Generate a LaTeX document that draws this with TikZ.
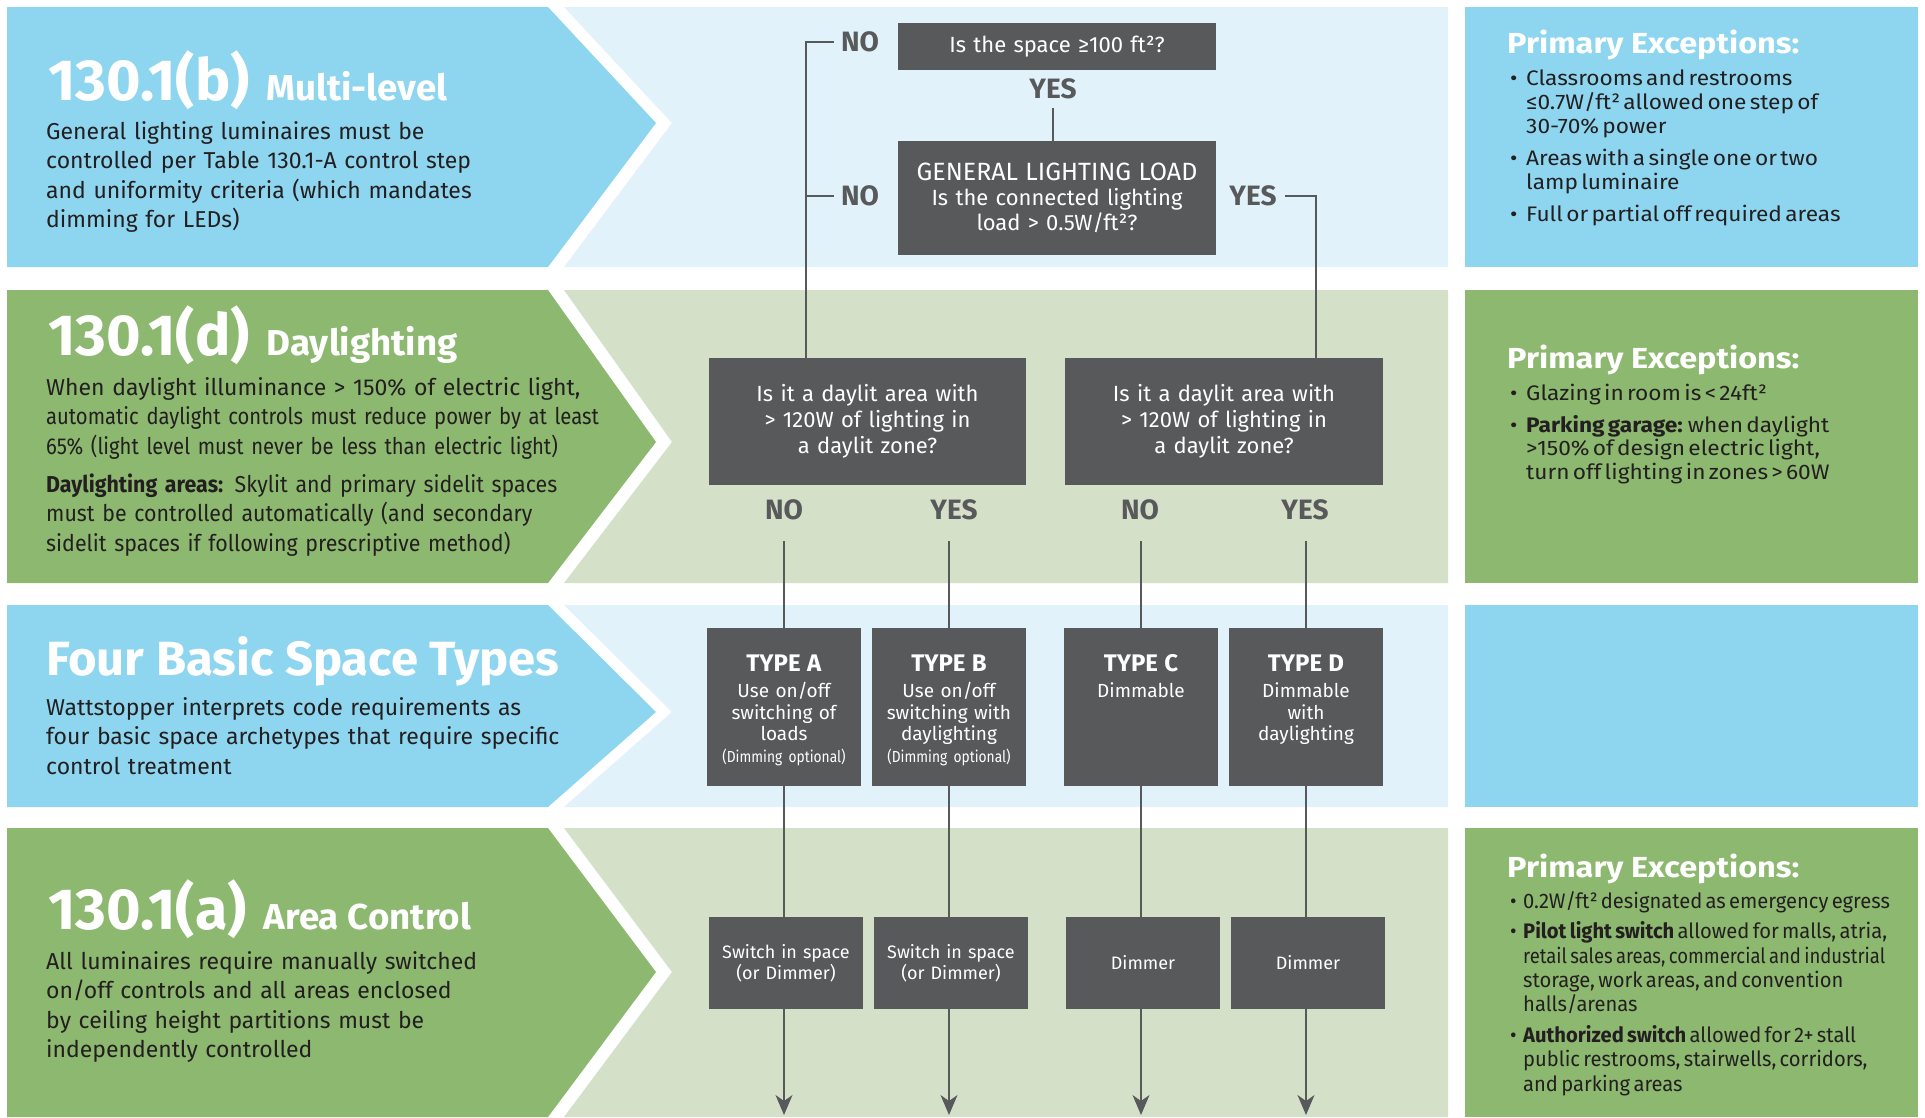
\documentclass[tikz,border=0pt]{standalone}
\usepackage{fontspec}
\setmainfont{Fira Sans}
\newfontfamily\titlefont[FakeStretch=1.02]{Fira Sans}
\newfontfamily\narrowfont[FakeStretch=0.86]{Fira Sans}
\newfontfamily\tightfont[FakeStretch=0.88]{Fira Sans}
\newfontfamily\snugfont[FakeStretch=0.93]{Fira Sans}
\newfontfamily\listfont[FakeStretch=0.96]{Fira Sans}
\newfontfamily\widefont[FakeStretch=1.08]{Fira Sans}
\newfontfamily\headfont[FakeStretch=1.12]{Fira Sans}
\usetikzlibrary{arrows.meta}

\definecolor{skyband}{HTML}{8ED6EF}
\definecolor{skypale}{HTML}{E1F2FA}
\definecolor{leafband}{HTML}{8DB870}
\definecolor{leafpale}{HTML}{D5E0C9}
\definecolor{boxgrey}{HTML}{58595B}
\definecolor{inkdark}{HTML}{231F20}

\newcommand\sz[2]{\fontsize{#1}{#2}\selectfont}
\newcommand\bul[2][16pt]{\hangindent=#1\hangafter=1\makebox[#1][l]{\textbullet}#2\par}

\begin{document}
\begin{tikzpicture}[x=1pt,y=-1pt,
    question/.style={fill=boxgrey,text=white,inner sep=0pt,align=center,font=\sz{22}{25}},
    answer/.style={text=boxgrey,inner sep=0pt,font=\bfseries\sz{28}{28}},
    typebox/.style={fill=boxgrey,minimum width=154pt,minimum height=158pt,inner sep=0pt},
    typetext/.style={text=white,text width=150pt,align=center,inner sep=0pt,anchor=base,font=\sz{19}{21.5}},
    ctrlbox/.style={fill=boxgrey,text=white,minimum width=154pt,minimum height=92pt,inner sep=0pt,
      text width=150pt,align=center,font=\sz{18}{21}},
    wire/.style={draw=boxgrey,line width=1.3pt},
    headline/.style={text=white,anchor=base west,inner sep=0pt},
    blurb/.style={text=inkdark,anchor=base west,inner sep=0pt,text width=640pt,align=left,font=\sz{23}{29.5}},
    exhead/.style={text=white,anchor=base west,inner sep=0pt,font=\headfont\bfseries\sz{29}{29}},
    exlist/.style={text=inkdark,anchor=base west,inner sep=0pt,text width=460pt,align=left},
  ]
  \fill[white] (0,0) rectangle (1925,1117);
  \useasboundingbox (0,0) rectangle (1925,1117);

  % bands: chevron, pale field, side panel
  \foreach \top/\tip/\bot/\deep/\pale in {7/123/267/skyband/skypale, 290/442/583/leafband/leafpale,
      605/712/807/skyband/skypale, 828/972/1117/leafband/leafpale}{
    \fill[\pale] (564,\top) -- (672,\tip) -- (564,\bot) -- (1448,\bot) -- (1448,\top) -- cycle;
    \fill[\deep] (7,\top) -- (548,\top) -- (656,\tip) -- (548,\bot) -- (7,\bot) -- cycle;
    \fill[\deep] (1465,\top) rectangle (1918,\bot);
  }

  % left headings
  \node[headline] (headb) at (48,100) {\titlefont\bfseries\sz{58}{58}130.1(b)\hspace{17pt}\sz{36}{36}Multi-level};
  \node[blurb] (textb) at (46,139) {General lighting luminaires must be\\controlled per Table 130.1-A control step\\
    and uniformity criteria (which mandates\\dimming for LEDs)};
  \node[headline] (headd) at (48,355) {\titlefont\bfseries\sz{58}{58}130.1(d)\hspace{17pt}\sz{36}{36}Daylighting};
  \node[blurb] (textd) at (46,395) {When daylight illuminance > 150\% of electric light,\\
    {\tightfont automatic daylight controls must reduce power by at least}\\
    {\tightfont 65\% (light level must never be less than electric light)}\\[8.5pt]
    {\snugfont\textbf{Daylighting areas:} Skylit and primary sidelit spaces}\\
    {\snugfont must be controlled automatically (and secondary}\\
    {\snugfont sidelit spaces if following prescriptive method)}};
  \node[headline] (headtypes) at (46,675) {\titlefont\bfseries\sz{48}{48}Four Basic Space Types};
  \node[blurb] (texttypes) at (46,715) {Wattstopper interprets code requirements as\\
    four basic space archetypes that require specific\\control treatment};
  \node[headline] (heada) at (48,929) {\titlefont\bfseries\sz{58}{58}130.1(a)\hspace{17pt}\sz{36}{36}Area Control};
  \node[blurb] (texta) at (46,969) {All luminaires require manually switched\\on/off controls and all areas enclosed\\
    by ceiling height partitions must be\\independently controlled};

  % exceptions
  \node[exhead] (exb) at (1507,53) {Primary Exceptions:};
  \node[exlist] (exblist) at (1510,85) {\widefont\sz{21}{24}\parskip=8pt
    \bul{Classrooms and restrooms\newline ≤0.7W/ft² allowed one step of\newline 30-70\% power}
    \bul{Areas with a single one or two\newline lamp luminaire}
    \bul{Full or partial off required areas}};
  \node[exhead] (exd) at (1507,368) {Primary Exceptions:};
  \node[exlist] (exdlist) at (1510,400) {\widefont\sz{21}{23.5}\parskip=8.5pt
    \bul{Glazing in room is < 24ft²}
    \bul{\textbf{Parking garage:} when daylight\newline >150\% of design electric light,\newline
      turn off lighting in zones > 60W}};
  \node[exhead] (exa) at (1507,877) {Primary Exceptions:};
  \node[exlist] (exalist) at (1510,908) {\listfont\sz{21}{24.3}\parskip=6.5pt
    \bul[13pt]{0.2W/ft² designated as emergency egress}
    \bul[13pt]{\textbf{Pilot light switch} allowed for malls, atria,\newline
      {\tightfont retail sales areas, commercial and industrial}\newline
      storage, work areas, and convention\newline halls/arenas}
    \bul[13pt]{\textbf{Authorized switch} allowed for 2+ stall\newline public restrooms, stairwells, corridors,\newline
      and parking areas}};

  % decision boxes
  \node[question,minimum width=318pt,minimum height=47pt,text width=300pt] (space) at (1057,46.5)
    {Is the space ≥100 ft²?};
  \node[question,minimum width=318pt,minimum height=114pt,text width=300pt] (load) at (1057,198)
    {{\sz{25}{25}GENERAL LIGHTING LOAD}\\Is the connected lighting\\load > 0.5W/ft²?};
  \node[question,font=\sz{22}{26},minimum width=317pt,minimum height=127pt,text width=300pt] (daylitL) at (867.5,421.5)
    {Is it a daylit area with\\> 120W of lighting in\\a daylit zone?};
  \node[question,font=\sz{22}{26},minimum width=318pt,minimum height=127pt,text width=300pt] (daylitR) at (1224,421.5)
    {Is it a daylit area with\\> 120W of lighting in\\a daylit zone?};

  \node[answer] (no1) at (860,42) {NO};
  \node[answer] (yes1) at (1053,89) {YES};
  \node[answer] (no2) at (860,196) {NO};
  \node[answer] (yes2) at (1253,196) {YES};
  \node[answer] (no3) at (784,510) {NO};
  \node[answer] (yes3) at (954,510) {YES};
  \node[answer] (no4) at (1140,510) {NO};
  \node[answer] (yes4) at (1305,510) {YES};

  % space types
  \node[typebox] (ta) at (784,707) {};
  \node[typebox] (tb) at (949,707) {};
  \node[typebox] (tc) at (1141,707) {};
  \node[typebox] (td) at (1306,707) {};
  \node[typetext] (ta-txt) at ([yshift=-44pt]ta.north) {\textbf{\sz{24}{26}TYPE A}\\[4.5pt]Use on/off\\switching of\\loads\\
    {\narrowfont\sz{16}{21.5}(Dimming optional)}};
  \node[typetext] (tb-txt) at ([yshift=-44pt]tb.north) {\textbf{\sz{24}{26}TYPE B}\\[4.5pt]Use on/off\\switching with\\daylighting\\
    {\narrowfont\sz{16}{21.5}(Dimming optional)}};
  \node[typetext] (tc-txt) at ([yshift=-44pt]tc.north) {\textbf{\sz{24}{26}TYPE C}\\[4.5pt]Dimmable};
  \node[typetext] (td-txt) at ([yshift=-44pt]td.north) {\textbf{\sz{24}{26}TYPE D}\\[4.5pt]Dimmable\\with\\daylighting};

  \node[ctrlbox] (sa) at (786,963) {Switch in space\\(or Dimmer)};
  \node[ctrlbox] (sb) at (951,963) {Switch in space\\(or Dimmer)};
  \node[ctrlbox] (sc) at (1143,963) {Dimmer};
  \node[ctrlbox] (sd) at (1308,963) {Dimmer};

  % connectors
  \coordinate (nobus) at (806,42);
  \coordinate (yesbus) at (1316,196);
  \coordinate (floor) at (0,1115);
  \draw[wire] (no1.west) ++(-7,0) -| (daylitL.north -| nobus);
  \draw[wire] (no2.west) ++(-7,0) -- (no2.west -| nobus);
  \draw[wire] (yes1.south) ++(0,9) -- (load.north -| yes1.south);
  \draw[wire] (yes2.east) ++(8,0) -| (daylitR.north -| yesbus);
  \foreach \reply/\kind/\ctl in {no3/ta/sa, yes3/tb/sb, no4/tc/sc, yes4/td/sd}{
    \draw[wire] (\kind.north |- \reply.south) ++(0,21) -- (\kind.north);
    \draw[wire] (\kind.south) -- (\ctl.north -| \kind.south);
    \draw[wire,-{Stealth[length=20pt,width=17pt,inset=6pt]}] (\ctl.south -| \kind.south) -- (floor -| \kind.south);
  }
\end{tikzpicture}
\end{document}
